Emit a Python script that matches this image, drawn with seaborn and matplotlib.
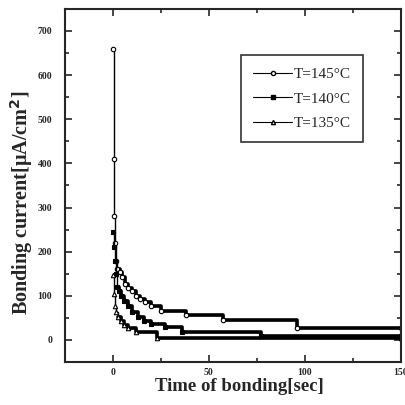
import matplotlib
matplotlib.use("Agg")
import matplotlib.pyplot as plt
import numpy as np
import pandas as pd
import seaborn as sns
from matplotlib.lines import Line2D
from matplotlib.ticker import MultipleLocator

# Bonding current readings
t_145 = [0, 0.4, 0.8, 1.2, 1.6, 2.2, 3.6, 4.7, 6.2, 7.8, 9.8, 12, 14, 16.6, 20, 25, 38, 57.5, 96, 150]
i_145 = [660, 410, 280, 220, 180, 160, 155, 143, 127, 118, 110, 100, 93, 85, 77, 66, 57, 45, 28, 28]

t_140 = [0, 0.5, 1.0, 1.5, 2.0, 3.0, 4.0, 6.0, 8.0, 10, 13, 16, 20, 27, 36, 77, 150]
i_140 = [245, 210, 178, 150, 120, 110, 100, 88, 77, 63, 52, 42, 36, 30, 19, 8, 8]

t_135 = [0, 0.5, 1.0, 1.5, 2.5, 4.0, 6.0, 8.0, 12, 23, 150]
i_135 = [148, 105, 78, 64, 53, 44, 34, 27, 19, 5, 4]

labels = ["T=145°C", "T=140°C", "T=135°C"]

df = pd.concat([
    pd.DataFrame({"t": t_145, "i": i_145, "series": labels[0]}),
    pd.DataFrame({"t": t_140, "i": i_140, "series": labels[1]}),
    pd.DataFrame({"t": t_135, "i": i_135, "series": labels[2]}),
])

sns.set_style("ticks")
plt.rcParams["font.family"] = ["Liberation Serif", "DejaVu Serif"]

fig = plt.figure(figsize=(4.05, 4.05), dpi=100)
ax = fig.add_axes([0.160, 0.106, 0.830, 0.872])

styles = {
    labels[0]: dict(marker="o", mfc="white", ms=3.2),
    labels[1]: dict(marker="s", mfc="black", ms=3.2),
    labels[2]: dict(marker="^", mfc="white", ms=3.2),
}
for name, sub in df.groupby("series", sort=False):
    # heavy stepped tail (dense readings in the original look like a thick band)
    tail = sub[sub["t"] >= 2]
    sns.lineplot(data=tail, x="t", y="i", ax=ax, color="black", linewidth=2.6,
                 drawstyle="steps-post", estimator=None, sort=False)
    sns.lineplot(data=sub, x="t", y="i", ax=ax, color="black", linewidth=1.0,
                 drawstyle="steps-post", mec="black", mew=0.8,
                 estimator=None, sort=False, **styles[name])

ax.set_xlim(-25, 150)
ax.set_ylim(-50, 750)
ax.xaxis.set_major_locator(MultipleLocator(50))
ax.xaxis.set_minor_locator(MultipleLocator(25))
ax.yaxis.set_major_locator(MultipleLocator(100))
ax.yaxis.set_minor_locator(MultipleLocator(50))
ax.tick_params(which="both", direction="in", top=True, right=True, width=1.2)
ax.tick_params(which="major", length=5, labelsize=7)
ax.tick_params(axis="y", which="major", pad=9)
ax.tick_params(axis="x", which="major", pad=4)
ax.tick_params(which="minor", length=3)
for lab in ax.get_xticklabels() + ax.get_yticklabels():
    lab.set_fontweight("bold")
for sp in ax.spines.values():
    sp.set_linewidth(1.5)

ax.set_xlabel("Time of bonding[sec]", fontsize=13.5, fontweight="bold", labelpad=1)
ax.set_ylabel("Bonding current[μA/cm$^{\\mathbf{2}}$]", fontsize=14.5, fontweight="bold", labelpad=2)
ax.xaxis.label.set_x(0.52)
ax.yaxis.label.set_y(0.45)

handles = [Line2D([], [], color="black", linewidth=0.8, mec="black", **styles[n]) for n in labels]
for h in handles:
    h.set_markersize(3)
leg = ax.legend(handles, labels, loc="upper left", bbox_to_anchor=(0.50, 0.89),
                fontsize=11, frameon=True, fancybox=False, handlelength=2.6,
                handletextpad=0.1, borderpad=0.8, labelspacing=0.7)
leg.get_frame().set_edgecolor("black")
leg.get_frame().set_linewidth(1.2)

fig.savefig("out.png", dpi=100)
